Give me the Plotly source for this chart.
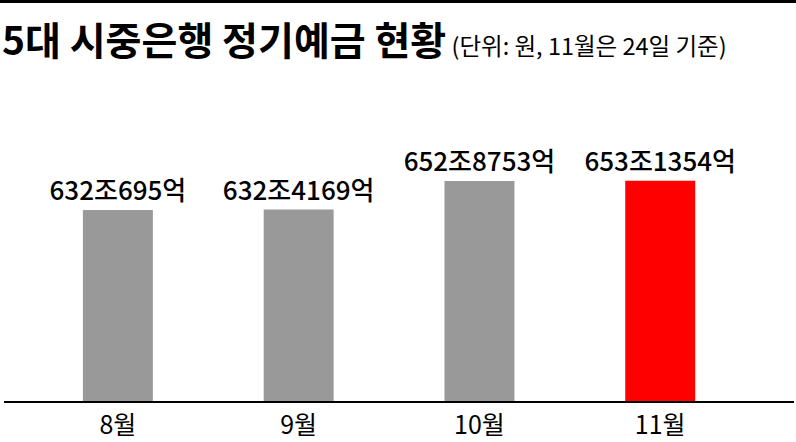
import plotly.graph_objects as go

months = ["8월", "9월", "10월", "11월"]
values = [632.0695, 632.4169, 652.8753, 653.1354]  # 조원
labels = ["632조695억", "632조4169억", "652조8753억", "653조1354억"]
colors = ["#999999", "#999999", "#999999", "#ff0000"]

title_main = "5대 시중은행 정기예금 현황"
title_sub = "(단위: 원, 11월은 24일 기준)"

FONT = "Noto Sans CJK KR"

fig = go.Figure(go.Bar(
    x=months, y=values, marker_color=colors, marker_line_width=0,
    width=0.387, text=labels, textposition="outside", cliponaxis=False,
    constraintext="none",
    textfont=dict(family=FONT, size=26, color="#000000", weight=500),
))

W, H = 796, 442
ml, mr, mt, mb = 4, 2, 100, 41
ph = H - mt - mb
pw = W - ml - mr

def py(pix):
    return (H - mb - pix) / ph

def px(pix):
    return (pix - ml) / pw

fig.update_layout(
    width=W, height=H,
    margin=dict(l=ml, r=mr, t=mt, b=mb, autoexpand=False),
    plot_bgcolor="white", paper_bgcolor="white",
    showlegend=False,
    font=dict(family=FONT, color="#000000"),
    xaxis=dict(range=[-0.63, 3.74], showline=True, linecolor="#000000", linewidth=2,
               automargin=False,
               showgrid=False, zeroline=False, ticks="outside", ticklen=1, tickcolor="rgba(0,0,0,0)",
               tickfont=dict(family=FONT, size=25, color="#000000")),
    yaxis=dict(range=[495, 711], visible=False, showgrid=False, zeroline=False, automargin=False),
    annotations=[
        dict(xref="paper", yref="paper", x=px(0), y=py(38), xanchor="left", yanchor="middle",
             showarrow=False,
             text=f"<b>{title_main}</b><span style='font-size:23.5px;font-weight:normal'> {title_sub}</span>",
             font=dict(family=FONT, size=39, color="#000000", weight=900)),
    ],
    shapes=[
        dict(type="line", xref="paper", yref="paper", x0=px(0), x1=px(W), y0=py(1.5), y1=py(1.5),
             line=dict(color="#000000", width=3)),
    ],
)

fig.write_html("out.html", config={"displayModeBar": False},
               post_script="document.body.style.margin='0';document.body.style.padding='0';")
